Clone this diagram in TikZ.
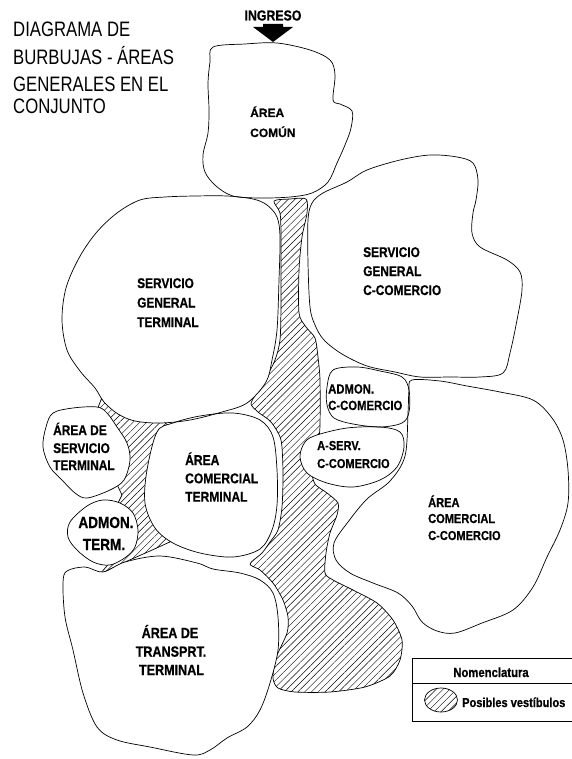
\documentclass[tikz,border=0pt]{standalone}
\usepackage{fontspec}
\newfontfamily\cad{Liberation Sans}[FakeStretch=0.85,BoldFeatures={FakeBold=0.6}]
\newfontfamily\cadtitle{Liberation Sans}[FakeStretch=0.8]
\newfontfamily\cadwide{Liberation Sans}[BoldFeatures={FakeBold=0.6}]
\usetikzlibrary{patterns.meta}
\pgfdeclarelayer{bgl}
\pgfdeclarelayer{hatchl}
\pgfdeclarelayer{fillsl}
\pgfsetlayers{bgl,hatchl,fillsl,main}
\newcommand\fs[1]{\fontsize{#1}{#1}\selectfont}
\newcommand\blob[1]{%
  \begin{pgfonlayer}{fillsl}\fill[white] plot[smooth cycle,tension=0.55] coordinates {#1};\end{pgfonlayer}%
  \draw[outl] plot[smooth cycle,tension=0.55] coordinates {#1};}
\begin{document}
\begin{tikzpicture}[x=1pt,y=-1pt,
  outl/.style={line width=0.7pt,line join=round},
  hatchst/.style={pattern={Lines[angle=45,distance=4.8pt,line width=0.45pt]},line width=0.7pt,line join=round},
  lab/.style={inner sep=0pt,anchor=base west},
  ttl/.style={inner sep=0pt,anchor=base west,font={\cadtitle\fs{20.9}}}]
\begin{pgfonlayer}{bgl}
  \fill[white] (0,0) rectangle (571,759);
\end{pgfonlayer}
\useasboundingbox (0,0) rectangle (571,759);

% ---- hatched vestibules ----
\begin{pgfonlayer}{hatchl}
\draw[hatchst] plot[smooth cycle,tension=0.45] coordinates {
 (274,201) (290,199) (306,199) (307,213) (302,237) (299,270) (299,313) (306,327)
 (315,338) (318,357) (320,380) (320,425) (318,445) (312,470) (315,484) (327,493)
 (338,503) (337,515) (330,533) (326,553) (325,573) (333,580) (353,590) (377,603)
 (393,620) (402,640) (400,660) (390,676) (365,687) (330,692) (295,692) (278,688)
 (273,678) (276,658) (287,633) (288,617) (283,600) (273,583) (260,570) (250,564)
 (262,553) (270,542) (278,530) (282,507) (283,473) (281,440) (271,422) (258,412)
 (251,404) (256,394) (265,380) (275,360) (280,340) (281,303) (281,237) (280,213)};
\draw[hatchst] (103,395) -- (118,405) -- (135,412) -- (160,417) -- (170,428) -- (163,470)
 -- (160,505) -- (168,530) -- (172,541) -- (150,551) -- (125,562) -- (100,574) -- (112,560)
 -- (125,545) -- (125,520) -- (118,503) -- (122,495) -- (110,470) -- (100,440) -- (95,415) -- cycle;
\end{pgfonlayer}

% ---- bubbles ----
% Area comun
\blob{(213,47) (245,44) (277,43) (310,50) (330,60) (335,75) (333,100) (340,104) (352,111)
 (351,128) (345,145) (337,163) (328,182) (312,193) (290,197) (260,198) (233,196) (216,186)
 (205,172) (203,155) (208,133) (209,110) (208,83) (210,62)}
% Servicio general terminal
\blob{(140,200) (165,197) (195,196) (227,196) (253,199) (267,205) (277,217) (280,237)
 (279,280) (277,330) (272,360) (266,382) (247,403) (222,412) (190,420) (160,423) (135,421)
 (118,414) (104,402) (95,388) (80,371) (67,350) (62,320) (66,288) (79,258) (96,233) (117,213)}
% Servicio general C-comercio
\blob{(323,193) (347,182) (367,170) (400,160) (430,155) (457,157) (473,163) (478,180)
 (476,200) (473,213) (472,233) (480,247) (507,260) (520,272) (522,290) (517,320) (510,353)
 (503,373) (480,377) (450,377) (420,377) (395,372) (367,366) (342,354) (324,340) (315,325)
 (310,307) (308,263) (308,220) (312,203)}
% Admon C-comercio
\blob{(333,370) (357,367) (380,371) (402,377) (409,390) (409,412) (402,423) (380,427)
 (353,424) (334,418) (327,405) (327,387)}
% A-serv C-comercio
\blob{(317,435) (347,428) (380,427) (400,432) (404,447) (397,467) (380,480) (353,487)
 (327,483) (307,473) (300,457) (305,442)}
% Area comercial C-comercio
\blob{(412,380) (440,381) (467,386) (500,392) (533,400) (552,418) (563,440) (568,470)
 (568,503) (560,530) (547,557) (533,587) (513,610) (482,623) (455,633) (437,631) (422,622)
 (412,606) (398,593) (373,583) (350,573) (336,560) (334,543) (348,522) (367,499) (390,481)
 (405,456) (408,413) (409,390)}
% Area de servicio terminal
\blob{(53,413) (73,408) (97,407) (107,413) (117,427) (127,443) (130,460) (124,480)
 (110,490) (87,498) (75,493) (62,480) (50,467) (43,447) (46,427)}
% Admon terminal
\blob{(87,506) (103,500) (120,503) (133,513) (138,530) (135,547) (126,557) (110,565)
 (93,562) (77,550) (68,537) (70,522)}
% Area comercial terminal
\blob{(157,432) (173,423) (200,416) (233,413) (260,420) (273,437) (277,470) (277,505)
 (272,530) (260,549) (233,557) (200,553) (173,543) (155,528) (145,503) (147,470)}
% Area de transporte terminal
\blob{(67,571) (85,567) (103,572) (125,562) (160,556) (197,563) (213,569) (240,573)
 (260,580) (273,593) (278,617) (278,650) (270,683) (260,710) (247,727) (227,738) (210,750)
 (193,755) (150,747) (117,740) (97,727) (83,693) (73,650) (65,617) (63,583)}

% ---- entrance arrow ----
\fill (263,24) -- (283,24) -- (283,27) -- (293,27) -- (273,42) -- (253,27) -- (263,27) -- cycle;
\node[lab,anchor=base,font={\cad\bfseries\fs{14.5}}] (ingreso) at (273,20.5) {INGRESO};

% ---- title ----
\node[ttl] (t1) at (13,36.7) {DIAGRAMA DE};
\node[ttl] (t2) at (13,64.5) {BURBUJAS - ÁREAS};
\node[ttl] (t3) at (13,91.5) {GENERALES EN EL};
\node[ttl] (t4) at (13,113.3) {CONJUNTO};

% ---- labels ----
\node[lab,font={\cadwide\bfseries\fs{12}}] (ac1) at (250,117) {ÁREA};
\node[lab,font={\cadwide\bfseries\fs{12}}] (ac2) at (250,137) {COMÚN};

\node[lab,font={\cad\bfseries\fs{14}}] (sgt1) at (137,288) {SERVICIO};
\node[lab,font={\cad\bfseries\fs{14}}] (sgt2) at (137,307.5) {GENERAL};
\node[lab,font={\cad\bfseries\fs{14}}] (sgt3) at (137,327) {TERMINAL};

\node[lab,font={\cad\bfseries\fs{14}}] (sgc1) at (363,257) {SERVICIO};
\node[lab,font={\cad\bfseries\fs{14}}] (sgc2) at (363,276) {GENERAL};
\node[lab,font={\cad\bfseries\fs{14}}] (sgc3) at (363,295) {C-COMERCIO};

\node[lab,font={\cad\bfseries\fs{13.3}}] (adc1) at (328,393.5) {ADMON.};
\node[lab,font={\cad\bfseries\fs{13.3}}] (adc2) at (328,410) {C-COMERCIO};

\node[lab,font={\cad\bfseries\fs{13}}] (asc1) at (317,450) {A-SERV.};
\node[lab,font={\cad\bfseries\fs{13}}] (asc2) at (317,468) {C-COMERCIO};

\node[lab,font={\cad\bfseries\fs{14}}] (ast1) at (53,435) {ÁREA DE};
\node[lab,font={\cad\bfseries\fs{14}}] (ast2) at (53,453) {SERVICIO};
\node[lab,font={\cad\bfseries\fs{14}}] (ast3) at (53,470) {TERMINAL};

\node[lab,font={\cad\bfseries\fs{14.2}}] (act1) at (185,465) {ÁREA};
\node[lab,font={\cad\bfseries\fs{14.2}}] (act2) at (185,483.3) {COMERCIAL};
\node[lab,font={\cad\bfseries\fs{14.2}}] (act3) at (185,501.7) {TERMINAL};

\node[lab,anchor=base,font={\cad\bfseries\fs{16}}] (adt1) at (106,528) {ADMON.};
\node[lab,anchor=base,font={\cad\bfseries\fs{16}}] (adt2) at (104,550) {TERM.};

\node[lab,anchor=base,font={\cad\bfseries\fs{14.8}}] (att1) at (170,638) {ÁREA DE};
\node[lab,anchor=base,font={\cad\bfseries\fs{14.8}}] (att2) at (171,656.7) {TRANSPRT.};
\node[lab,anchor=base,font={\cad\bfseries\fs{14.8}}] (att3) at (171.5,675) {TERMINAL};

\node[lab,font={\cad\bfseries\fs{13}}] (acc1) at (428,507) {ÁREA};
\node[lab,font={\cad\bfseries\fs{13}}] (acc2) at (428,523) {COMERCIAL};
\node[lab,font={\cad\bfseries\fs{13}}] (acc3) at (428,540) {C-COMERCIO};

% ---- legend ----
\draw[outl] (412,721) -- (412,658) -- (575,658);
\draw[outl] (412,683) -- (575,683);
\draw[outl] (412,721) -- (575,721);
\node[lab,anchor=base,font={\cad\bfseries\fs{13.3}}] (nom) at (491,677) {Nomenclatura};
\draw[hatchst] (441,700) ellipse [x radius=16.5pt,y radius=12pt];
\node[lab,font={\cad\bfseries\fs{13}}] (pos) at (462,707) {Posibles vestíbulos};
\end{tikzpicture}
\end{document}
